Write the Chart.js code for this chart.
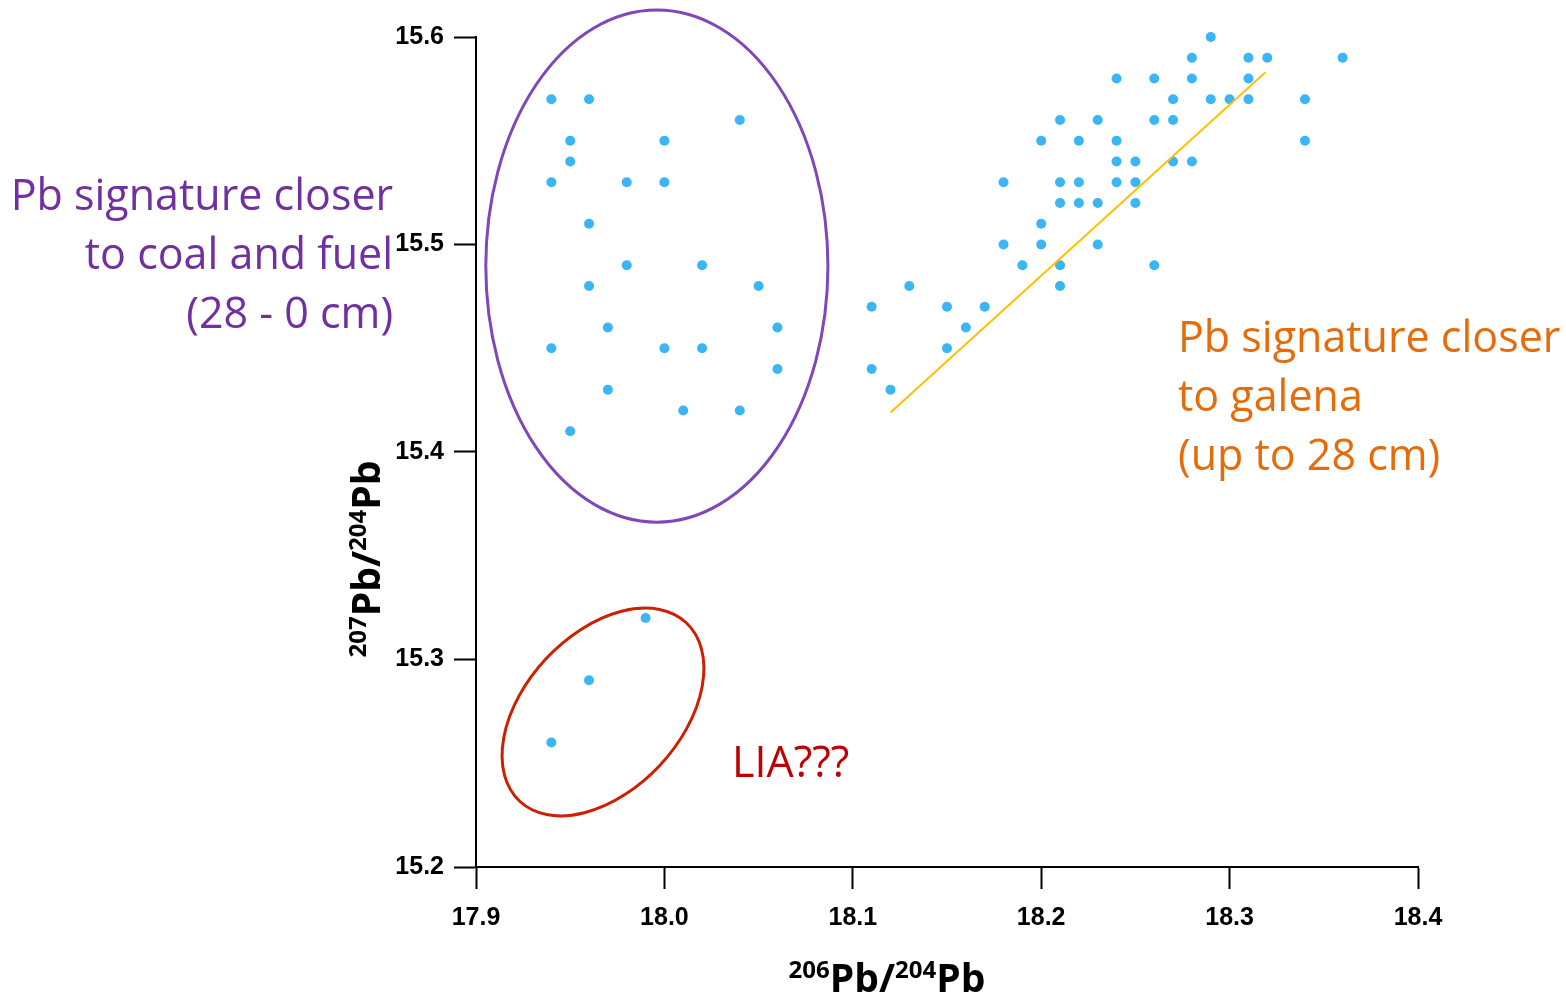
<!DOCTYPE html>
<html>
<head>
<meta charset="utf-8">
<title>Pb isotopes</title>
<script src="https://cdn.jsdelivr.net/npm/chart.js@4.4.0/dist/chart.umd.min.js"></script>
<style>
  html, body { margin: 0; padding: 0; background: #fff; }
  #wrap { width: 1566px; height: 1002px; }
</style>
</head>
<body>
<div id="wrap"><canvas id="myChart" width="1566" height="1002"></canvas></div>
<script>
// 206Pb/204Pb (x) and 207Pb/204Pb (y) for each sample
const pb206 = [
  // upper left group (28 - 0 cm)
  17.94, 17.96, 18.04, 17.95, 18.00, 17.95, 17.94, 17.98, 18.00, 17.96, 17.98, 18.02,
  17.96, 18.05, 17.97, 18.06, 17.94, 18.00, 18.02, 18.06, 17.97, 18.01, 18.04, 17.95,
  // LIA
  17.94, 17.96, 17.99,
  // galena group
  18.29, 18.28, 18.31, 18.32, 18.36, 18.24, 18.26, 18.28, 18.31, 18.27, 18.29, 18.30,
  18.31, 18.34, 18.21, 18.23, 18.26, 18.27, 18.20, 18.22, 18.24, 18.34, 18.24, 18.25,
  18.27, 18.28, 18.18, 18.21, 18.22, 18.24, 18.25, 18.21, 18.22, 18.23, 18.25, 18.20,
  18.18, 18.20, 18.23, 18.19, 18.21, 18.26, 18.21, 18.13, 18.11, 18.15, 18.17, 18.16,
  18.15, 18.11, 18.12
];
const pb207 = [
  15.57, 15.57, 15.56, 15.55, 15.55, 15.54, 15.53, 15.53, 15.53, 15.51, 15.49, 15.49,
  15.48, 15.48, 15.46, 15.46, 15.45, 15.45, 15.45, 15.44, 15.43, 15.42, 15.42, 15.41,
  15.26, 15.29, 15.32,
  15.60, 15.59, 15.59, 15.59, 15.59, 15.58, 15.58, 15.58, 15.58, 15.57, 15.57, 15.57,
  15.57, 15.57, 15.56, 15.56, 15.56, 15.56, 15.55, 15.55, 15.55, 15.55, 15.54, 15.54,
  15.54, 15.54, 15.53, 15.53, 15.53, 15.53, 15.53, 15.52, 15.52, 15.52, 15.52, 15.51,
  15.50, 15.50, 15.50, 15.49, 15.49, 15.49, 15.48, 15.48, 15.47, 15.47, 15.47, 15.46,
  15.45, 15.44, 15.43
];

// yellow trend line
const fitLineX = [18.12, 18.319];
const fitLineY = [15.419, 15.583];

const xTicks = [17.9, 18.0, 18.1, 18.2, 18.3, 18.4];
const yTicks = [15.2, 15.3, 15.4, 15.5, 15.6];

// ellipses: centre, end of first half-axis, end of second half-axis (data units)
const coalCenter = [17.996, 15.4896];
const coalAxisA = [18.0868, 15.4896];
const coalAxisB = [17.996, 15.613];
const liaCenter = [17.9674, 15.2747];
const liaAxisA = [18.0116, 15.3177];
const liaAxisB = [17.9977, 15.2491];

const coalLabel = ["Pb signature closer", "to coal and fuel", "(28 - 0 cm)"];
const galenaLabel = ["Pb signature closer", "to galena", "(up to 28 cm)"];
const liaLabel = ["LIA???"];

const points = pb206.map((v, i) => ({ x: v, y: pb207[i] }));
const fitLine = fitLineX.map((v, i) => ({ x: v, y: fitLineY[i] }));

const TEXT_FONT = "43px 'Open Sans'";

const notesPlugin = {
  id: "notes",
  beforeDatasetsDraw(chart) {
    const { ctx, scales: { x, y } } = chart;
    const px = v => x.getPixelForValue(v);
    const py = v => y.getPixelForValue(v);

    function ellipse(c, a, b, color) {
      const cx = px(c[0]), cy = py(c[1]);
      const ax = px(a[0]) - cx, ay = py(a[1]) - cy;
      const bx = px(b[0]) - cx, by = py(b[1]) - cy;
      ctx.save();
      ctx.strokeStyle = color;
      ctx.lineWidth = 3;
      ctx.beginPath();
      ctx.ellipse(cx, cy, Math.hypot(ax, ay), Math.hypot(bx, by), Math.atan2(ay, ax), 0, Math.PI * 2);
      ctx.stroke();
      ctx.restore();
    }

    ellipse(coalCenter, coalAxisA, coalAxisB, "#7f47b7");
    ellipse(liaCenter, liaAxisA, liaAxisB, "#cc2000");
  },
  afterDatasetsDraw(chart) {
    const { ctx, chartArea, scales: { x, y } } = chart;
    const px = v => x.getPixelForValue(v);
    const py = v => y.getPixelForValue(v);

    function lines(texts, xv, yv, align, color) {
      ctx.save();
      ctx.font = TEXT_FONT;
      ctx.fillStyle = color;
      ctx.textAlign = align;
      ctx.textBaseline = "alphabetic";
      texts.forEach((t, i) => ctx.fillText(t, px(xv), py(yv) + i * 59));
      ctx.restore();
    }

    lines(coalLabel, 17.856, 15.5166, "right", "#7030a0");
    lines(galenaLabel, 18.2726, 15.4482, "left", "#e46c0a");
    lines(liaLabel, 18.0359, 15.2434, "left", "#c00000");

    // axis titles with superscript mass numbers
    function isoTitle(a, b, cx, cy, rot) {
      const big = "bold 39px 'Open Sans'", small = "bold 24px 'Open Sans'";
      const parts = [[a, small], ["Pb/", big], [b, small], ["Pb", big]];
      ctx.save();
      ctx.translate(cx, cy);
      ctx.rotate(rot);
      ctx.fillStyle = "#000";
      ctx.textBaseline = "alphabetic";
      ctx.textAlign = "left";
      let total = 0;
      parts.forEach(p => { ctx.font = p[1]; total += ctx.measureText(p[0]).width; });
      let pos = -total / 2;
      parts.forEach(p => {
        ctx.font = p[1];
        ctx.fillText(p[0], pos, p[1] === small ? -14 : 0);
        pos += ctx.measureText(p[0]).width;
      });
      ctx.restore();
    }

    isoTitle("206", "204", chartArea.left + 411, chartArea.bottom + 125, 0);
    isoTitle("207", "204", chartArea.left - 96, chartArea.top + 522, -Math.PI / 2);
  }
};

const tickFont = { family: "'Liberation Sans', Arial, sans-serif", size: 25, weight: "bold" };

new Chart(document.getElementById("myChart"), {
  data: {
    datasets: [
      {
        type: "line",
        data: fitLine,
        borderColor: "#ffc000",
        borderWidth: 2,
        pointRadius: 0,
        fill: false,
        order: 0
      },
      {
        type: "scatter",
        data: points,
        backgroundColor: "#3bb5f3",
        borderWidth: 0,
        pointRadius: 5,
        pointHoverRadius: 5,
        clip: false,
        order: 1
      }
    ]
  },
  options: {
    responsive: false,
    animation: false,
    events: [],
    layout: { padding: { left: 0, top: 37, right: 148, bottom: 0 } },
    plugins: { legend: { display: false }, tooltip: { enabled: false } },
    scales: {
      x: {
        type: "linear",
        min: 17.9,
        max: 18.4,
        afterBuildTicks: s => { s.ticks = xTicks.map(v => ({ value: v })); },
        afterFit: s => { s.height = 135; },
        ticks: {
          font: tickFont,
          color: "#000",
          padding: 14,
          callback: v => v.toFixed(1)
        },
        grid: { drawOnChartArea: false, tickLength: 22, tickColor: "#000", tickWidth: 2 },
        border: { color: "#000", width: 2 }
      },
      y: {
        type: "linear",
        min: 15.2,
        max: 15.6,
        afterBuildTicks: s => { s.ticks = yTicks.map(v => ({ value: v })); },
        afterFit: s => { s.width = 476; },
        ticks: {
          font: tickFont,
          color: "#000",
          padding: 10,
          callback: v => v.toFixed(1)
        },
        grid: { drawOnChartArea: false, tickLength: 22, tickColor: "#000", tickWidth: 2 },
        border: { color: "#000", width: 2 }
      }
    }
  },
  plugins: [notesPlugin]
});
</script>
</body>
</html>
